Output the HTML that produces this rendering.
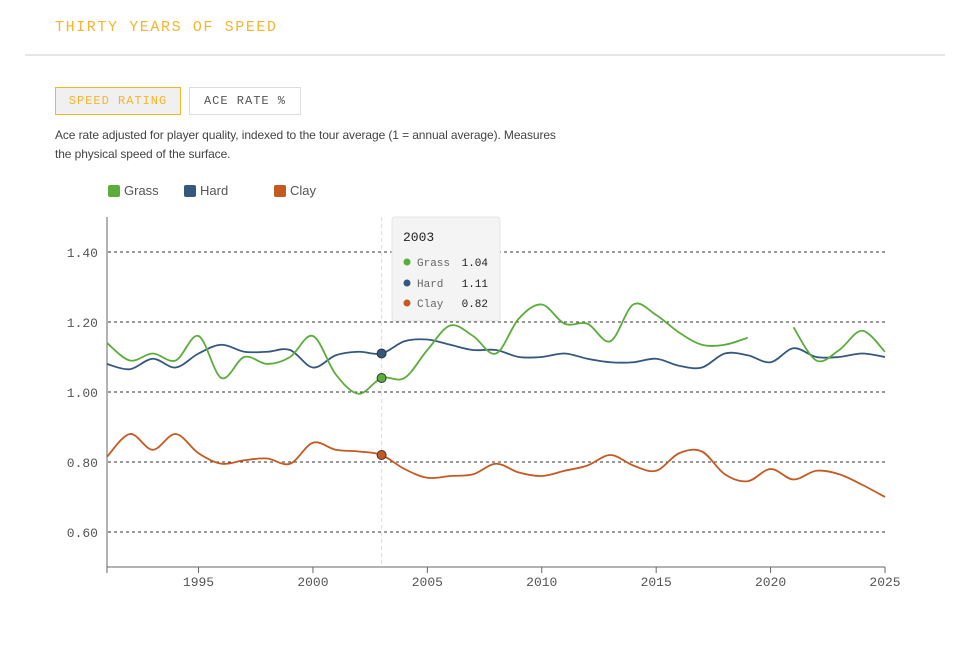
<!DOCTYPE html>
<html><head><meta charset="utf-8"><style>
body{margin:0;background:#fff;width:960px;height:648px;overflow:hidden;font-family:"Liberation Sans",sans-serif}
.t{position:absolute;left:55px;top:19px;font-family:"Liberation Mono",monospace;font-size:15px;letter-spacing:1.6px;color:#f5b52a}
.hr{position:absolute;left:25px;top:54px;width:920px;height:2px;background:#e6e6e6}
.b{position:absolute;top:87px;height:28px;box-sizing:border-box;font-family:"Liberation Mono",monospace;font-size:12px;letter-spacing:1px;line-height:26px;text-align:center}
.d{position:absolute;left:55px;top:126px;font-size:12px;line-height:19px;color:#444;width:560px;letter-spacing:-0.1px}
</style></head><body>
<div class="t">THIRTY YEARS OF SPEED</div><div class="hr"></div>
<div class="b" style="left:55px;width:126px;background:#f0f0f0;border:1px solid #f5b52a;color:#f5b52a">SPEED RATING</div>
<div class="b" style="left:189px;width:112px;border:1px solid #ddd;color:#555">ACE RATE %</div>
<div class="d">Ace rate adjusted for player quality, indexed to the tour average (1 = annual average). Measures<br>the physical speed of the surface.</div>
<svg id="s" width="960" height="648" style="position:absolute;left:0;top:0"></svg>
<script>
const G=[1.14,1.09,1.11,1.09,1.16,1.04,1.10,1.08,1.10,1.16,1.05,0.995,1.04,1.04,1.12,1.19,1.16,1.11,1.21,1.25,1.195,1.195,1.145,1.25,1.22,1.17,1.135,1.135,1.155,null,1.185,1.09,1.12,1.175,1.115];
const H=[1.08,1.065,1.095,1.07,1.11,1.135,1.115,1.115,1.12,1.07,1.105,1.115,1.11,1.145,1.15,1.135,1.12,1.12,1.10,1.10,1.11,1.095,1.085,1.085,1.095,1.075,1.07,1.11,1.105,1.085,1.125,1.10,1.10,1.11,1.10];
const C=[0.815,0.88,0.835,0.88,0.825,0.795,0.805,0.81,0.795,0.855,0.835,0.83,0.82,0.78,0.755,0.76,0.765,0.795,0.77,0.76,0.775,0.79,0.82,0.79,0.775,0.825,0.83,0.765,0.745,0.78,0.75,0.775,0.765,0.735,0.70];
const X=i=>107+i*778/34, Y=v=>392-(v-1)*350;
let s='';
[1.4,1.2,1.0,0.8,0.6].forEach(v=>{s+=`<line x1="108" x2="885" y1="${Y(v)}" y2="${Y(v)}" stroke="#333" stroke-dasharray="3,3" stroke-width="1"/><text x="98" y="${Y(v)+5}" text-anchor="end" font-family="Liberation Mono,monospace" font-size="13" fill="#555">${v.toFixed(2)}</text>`});
s+=`<line x1="107" x2="107" y1="217" y2="567" stroke="#666"/><line x1="107" x2="885" y1="567" y2="567" stroke="#666"/>`;
[1991,1995,2000,2005,2010,2015,2020,2025].forEach(y=>{const x=X(y-1991);s+=`<line x1="${x}" x2="${x}" y1="567" y2="573" stroke="#666"/>`;if(y>1991)s+=`<text x="${x}" y="586" text-anchor="middle" font-family="Liberation Mono,monospace" font-size="13" fill="#555">${y}</text>`});
s+=`<line x1="${X(12)}" x2="${X(12)}" y1="217" y2="565" stroke="#ddd" stroke-dasharray="4,3"/>`;
function path(a){let segs=[],cur=[];a.forEach((v,i)=>{if(v==null){if(cur.length)segs.push(cur);cur=[]}else cur.push([X(i),Y(v)])});if(cur.length)segs.push(cur);
return segs.map(p=>{let d=`M${p[0][0]},${p[0][1]}`;for(let i=0;i<p.length-1;i++){const p0=p[i-1]||p[i],p1=p[i],p2=p[i+1],p3=p[i+2]||p2;d+=` C${p1[0]+(p2[0]-p0[0])/6},${p1[1]+(p2[1]-p0[1])/6} ${p2[0]-(p3[0]-p1[0])/6},${p2[1]-(p3[1]-p1[1])/6} ${p2[0]},${p2[1]}`}return d}).join(' ')}
[[H,'#34587e'],[G,'#5aad3a'],[C,'#c45a22']].forEach(([a,c])=>{s+=`<path d="${path(a)}" fill="none" stroke="${c}" stroke-width="1.8"/>`;s+=`<circle cx="${X(12)}" cy="${Y(a[12])}" r="4.5" fill="${c}" stroke="#333" stroke-width="1"/>`});
s+=`<rect x="108" y="185" width="12" height="12" rx="2" fill="#5aad3a"/><text x="124" y="195" font-size="13" fill="#555" font-family="Liberation Sans,sans-serif">Grass</text>`;
s+=`<rect x="184" y="185" width="12" height="12" rx="2" fill="#34587e"/><text x="200" y="195" font-size="13" fill="#555" font-family="Liberation Sans,sans-serif">Hard</text>`;
s+=`<rect x="274" y="185" width="12" height="12" rx="2" fill="#c45a22"/><text x="290" y="195" font-size="13" fill="#555" font-family="Liberation Sans,sans-serif">Clay</text>`;
s+=`<rect x="392" y="217" width="108" height="104" rx="3" fill="#f4f4f4" stroke="#e4e4e4"/><text x="403" y="241" font-family="Liberation Mono,monospace" font-size="13" fill="#222">2003</text>`;
[['Grass','1.04','#5aad3a',262],['Hard','1.11','#34587e',283],['Clay','0.82','#c45a22',303]].forEach(([n,v,c,y])=>{s+=`<circle cx="407" cy="${y}" r="3.5" fill="${c}"/><text x="417" y="${y+4}" font-family="Liberation Mono,monospace" font-size="11" fill="#666">${n}</text><text x="488" y="${y+4}" text-anchor="end" font-family="Liberation Mono,monospace" font-size="11" fill="#222">${v}</text>`});
document.getElementById('s').innerHTML=s;
</script>
</body></html>
